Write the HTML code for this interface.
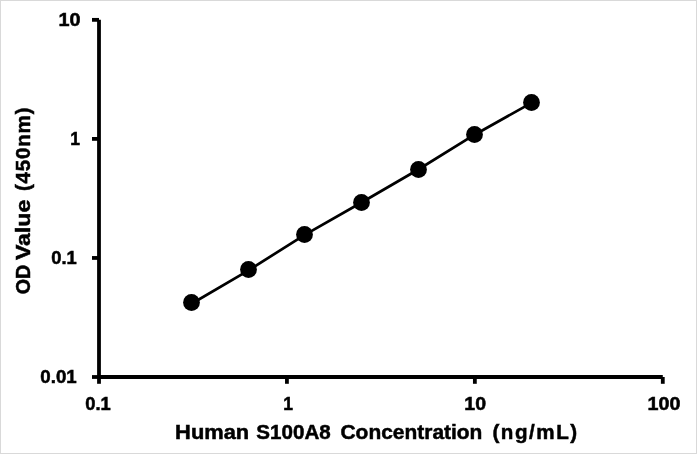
<!DOCTYPE html>
<html><head><meta charset="utf-8"><title>Human S100A8 standard curve</title>
<style>
html,body{margin:0;padding:0;background:#fff;}
body{width:697px;height:454px;overflow:hidden;}
svg{display:block;font-family:"Liberation Sans",sans-serif;font-weight:bold;fill:#000;}
</style></head><body>
<svg width="697" height="454" viewBox="0 0 697 454">
<rect x="0.5" y="0.5" width="696" height="453" fill="#fff" stroke="#d9d9d9" stroke-width="1"/>
<g fill="none" stroke="#000" stroke-width="3.8">
<path d="M99 19.85 V377"/>
<path d="M99 377 H662.79"/>
<path d="M92 19.85 H99"/>
<path d="M92 138.90 H99"/>
<path d="M92 257.95 H99"/>
<path d="M92 377.00 H99"/>
<path d="M99.00 377 V383.8"/>
<path d="M286.93 377 V383.8"/>
<path d="M474.86 377 V383.8"/>
<path d="M662.79 377 V383.8"/>
</g>
<polyline fill="none" stroke="#000" stroke-width="2.7" stroke-linejoin="round" points="191.55,303.75 248.57,270.35 304.7,234.8 361.5,202.5 418.3,169.5 474.6,134.7 531.5,102.9"/>
<circle cx="191.5" cy="302.5" r="8.4"/>
<circle cx="248.5" cy="269.5" r="8.4"/>
<circle cx="304.5" cy="234.5" r="8.4"/>
<circle cx="361.5" cy="202.5" r="8.4"/>
<circle cx="418.5" cy="169.5" r="8.4"/>
<circle cx="474.5" cy="134.5" r="8.4"/>
<circle cx="531.5" cy="102.5" r="8.4"/>
<text font-size="20.6" x="175.11" y="439.0" textLength="74.12" lengthAdjust="spacingAndGlyphs" stroke="#000" stroke-width="0.5">Human</text>
<text font-size="20.6" x="256.35" y="439.0" textLength="74.36" lengthAdjust="spacingAndGlyphs" stroke="#000" stroke-width="0.5">S100A8</text>
<text font-size="20.6" x="340.49" y="439.0" textLength="141.92" lengthAdjust="spacingAndGlyphs" stroke="#000" stroke-width="0.5">Concentration</text>
<text font-size="20.6" x="492.45" y="439.0" textLength="84.70" lengthAdjust="spacing" stroke="#000" stroke-width="0.5">(ng/mL)</text>
<text font-size="20.6" transform="translate(30.0 294.23) rotate(-90)" textLength="29.55" lengthAdjust="spacingAndGlyphs" stroke="#000" stroke-width="0.5">OD</text>
<text font-size="20.6" transform="translate(30.0 260.05) rotate(-90)" textLength="60.35" lengthAdjust="spacingAndGlyphs" stroke="#000" stroke-width="0.5">Value</text>
<text font-size="20.6" transform="translate(30.0 191.05) rotate(-90)" textLength="83.60" lengthAdjust="spacing" stroke="#000" stroke-width="0.5">(450nm)</text>
<text font-size="17.5" x="58.53" y="25.8" textLength="22.01" lengthAdjust="spacingAndGlyphs" stroke="#000" stroke-width="0.5">10</text>
<text font-size="17.5" x="70.30" y="144.7" textLength="9.73" lengthAdjust="spacingAndGlyphs" stroke="#000" stroke-width="0.5">1</text>
<text font-size="17.5" x="51.28" y="263.7" textLength="25.47" lengthAdjust="spacingAndGlyphs" stroke="#000" stroke-width="0.5">0.1</text>
<text font-size="17.5" x="40.39" y="382.9" textLength="36.36" lengthAdjust="spacingAndGlyphs" stroke="#000" stroke-width="0.5">0.01</text>
<text font-size="17.5" x="85.28" y="409.8" textLength="25.47" lengthAdjust="spacingAndGlyphs" stroke="#000" stroke-width="0.5">0.1</text>
<text font-size="17.5" x="283.20" y="409.8" textLength="9.73" lengthAdjust="spacingAndGlyphs" stroke="#000" stroke-width="0.5">1</text>
<text font-size="17.5" x="464.33" y="409.8" textLength="21.71" lengthAdjust="spacingAndGlyphs" stroke="#000" stroke-width="0.5">10</text>
<text font-size="17.5" x="647.55" y="409.8" textLength="32.88" lengthAdjust="spacingAndGlyphs" stroke="#000" stroke-width="0.5">100</text>
</svg></body></html>
